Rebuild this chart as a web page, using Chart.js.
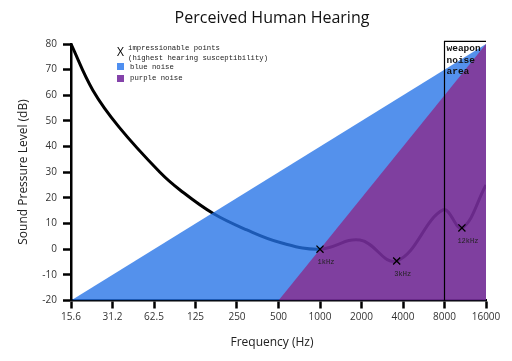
<!DOCTYPE html>
<html>
<head>
<meta charset="utf-8">
<script src="https://cdn.jsdelivr.net/npm/chart.js@4.4.1/dist/chart.umd.min.js"></script>
<style>
  html, body { margin: 0; padding: 0; background: #fff; }
  #wrap { width: 512px; height: 361px; }
</style>
</head>
<body>
<div id="wrap"><canvas id="chart" width="512" height="361"></canvas></div>
<script>
// x axis: octave bands (Hz)
const freqTicks = [15.625, 31.25, 62.5, 125, 250, 500, 1000, 2000, 4000, 8000, 16000];
const freqLabels = ['15.6', '31.2', '62.5', '125', '250', '500', '1000', '2000', '4000', '8000', '16000'];

// hearing threshold curve
const curveFreq = [15.625, 22.5, 35, 69, 97, 167, 295, 514, 1000, 1950, 3600, 7800, 10700, 16000];
const curveDb   = [80, 62, 47.5, 30, 23, 14, 7.5, 2.6, 0, 3.6, -4.6, 15.3, 8.3, 25];

// noise triangles
const blueFreq = [15.625, 16000];
const blueDb = [-20, 80];
const purpleFreq = [500, 16000];
const purpleDb = [-20, 80];

// weapon noise area outline
const weaponFreq = [8000, 8000, 16000];
const weaponDb = [-20, 81, 81];

// impressionable points
const pointFreq = [1000, 3600, 10700];
const pointDb = [0, -4.6, 8.3];
const pointLabels = ['1kHz', '3kHz', '12kHz'];

const toXY = (xs, ys) => xs.map((x, i) => ({ x: x, y: ys[i] }));

const mono = '"Liberation Mono", "DejaVu Sans Mono", monospace';
const sans = '"Open Sans", "Noto Sans", sans-serif';

const textPlugin = {
  id: 'texts',
  afterDraw(chart) {
    const ctx = chart.ctx;
    const xs = chart.scales.x, ys = chart.scales.y;
    ctx.save();
    ctx.fillStyle = '#111';

    // title
    ctx.font = '16px ' + sans;
    ctx.textAlign = 'center';
    ctx.textBaseline = 'middle';
    ctx.fillText('Perceived Human Hearing', 272, 18);

    // axis titles
    ctx.font = '12px ' + sans;
    ctx.fillStyle = '#222';
    ctx.fillText('Frequency (Hz)', 272, 343);
    ctx.save();
    ctx.translate(24, 172);
    ctx.rotate(-Math.PI / 2);
    ctx.fillText('Sound Pressure Level (dB)', 0, 0);
    ctx.restore();

    // point labels
    ctx.font = '7px ' + mono;
    ctx.fillStyle = '#222';
    pointLabels.forEach((t, i) => {
      const px = xs.getPixelForValue(pointFreq[i]);
      const py = ys.getPixelForValue(pointDb[i]);
      ctx.fillText(t, px + 6, py + 13);
    });

    // weapon noise area
    ctx.font = 'bold 9.5px ' + mono;
    ctx.textAlign = 'left';
    ctx.fillStyle = '#111';
    const wx = xs.getPixelForValue(8000) + 2;
    ['weapon', 'noise', 'area'].forEach((t, i) => ctx.fillText(t, wx, 49 + i * 11.5));

    // legend
    ctx.font = '12px ' + sans;
    ctx.fillStyle = '#000';
    ctx.fillText('X', 117, 53);
    ctx.font = '7.3px ' + mono;
    ctx.fillStyle = '#222';
    ctx.fillText('impressionable points', 128, 48.5);
    ctx.fillText('(highest hearing susceptibility)', 128, 58);
    ctx.fillText('blue noise', 130, 67);
    ctx.fillText('purple noise', 130, 78.5);
    ctx.fillStyle = '#4f8ff0';
    ctx.fillRect(117, 63, 7, 7);
    ctx.fillStyle = '#8443aa';
    ctx.fillRect(117, 75, 7, 7);
    ctx.restore();
  }
};

new Chart(document.getElementById('chart'), {
  type: 'line',
  data: {
    datasets: [
      {
        label: 'impressionable points',
        data: toXY(pointFreq, pointDb),
        showLine: false,
        pointStyle: 'crossRot',
        pointRadius: 5,
        pointBorderWidth: 1.3,
        pointBorderColor: '#000',
        order: 1
      },
      {
        label: 'weapon',
        data: toXY(weaponFreq, weaponDb),
        borderColor: '#000',
        borderWidth: 1.2,
        pointRadius: 0,
        tension: 0,
        fill: false,
        clip: false,
        order: 2
      },
      {
        label: 'purple noise',
        data: toXY(purpleFreq, purpleDb),
        borderWidth: 0,
        pointRadius: 0,
        tension: 0,
        fill: 'start',
        backgroundColor: 'rgba(157, 10, 109, 0.6)',
        order: 4
      },
      {
        label: 'blue noise',
        data: toXY(blueFreq, blueDb),
        borderWidth: 0,
        pointRadius: 0,
        tension: 0,
        fill: 'start',
        backgroundColor: 'rgba(36, 114, 231, 0.78)',
        order: 5
      },
      {
        label: 'hearing',
        data: toXY(curveFreq, curveDb),
        borderColor: '#000',
        borderWidth: 3,
        pointRadius: 0,
        tension: 0.4,
        fill: false,
        order: 10
      }
    ]
  },
  plugins: [textPlugin],
  options: {
    responsive: false,
    animation: false,
    layout: { padding: { top: 44, right: 26, left: 0, bottom: 0 } },
    plugins: {
      legend: { display: false },
      tooltip: { enabled: false },
      title: { display: false }
    },
    scales: {
      x: {
        type: 'logarithmic',
        min: 15.625,
        max: 16000,
        afterBuildTicks(scale) {
          scale.ticks = freqTicks.map(v => ({ value: v }));
        },
        afterFit(scale) { scale.height = 60.5; },
        ticks: {
          autoSkip: false,
          maxRotation: 0,
          padding: 3,
          color: '#333',
          font: { family: sans, size: 10 },
          callback: (v, i) => freqLabels[i]
        },
        grid: { drawOnChartArea: false, drawTicks: true, tickLength: 8, tickWidth: 2.5, tickColor: '#000' },
        border: { color: '#000', width: 2.5 }
      },
      y: {
        min: -20,
        max: 80,
        afterFit(scale) { scale.width = 71; },
        ticks: {
          stepSize: 10,
          padding: 6,
          color: '#333',
          font: { family: sans, size: 10 }
        },
        grid: { drawOnChartArea: false, drawTicks: true, tickLength: 8, tickWidth: 2.5, tickColor: '#000' },
        border: { color: '#000', width: 2.5 }
      }
    }
  }
});
</script>
</body>
</html>
